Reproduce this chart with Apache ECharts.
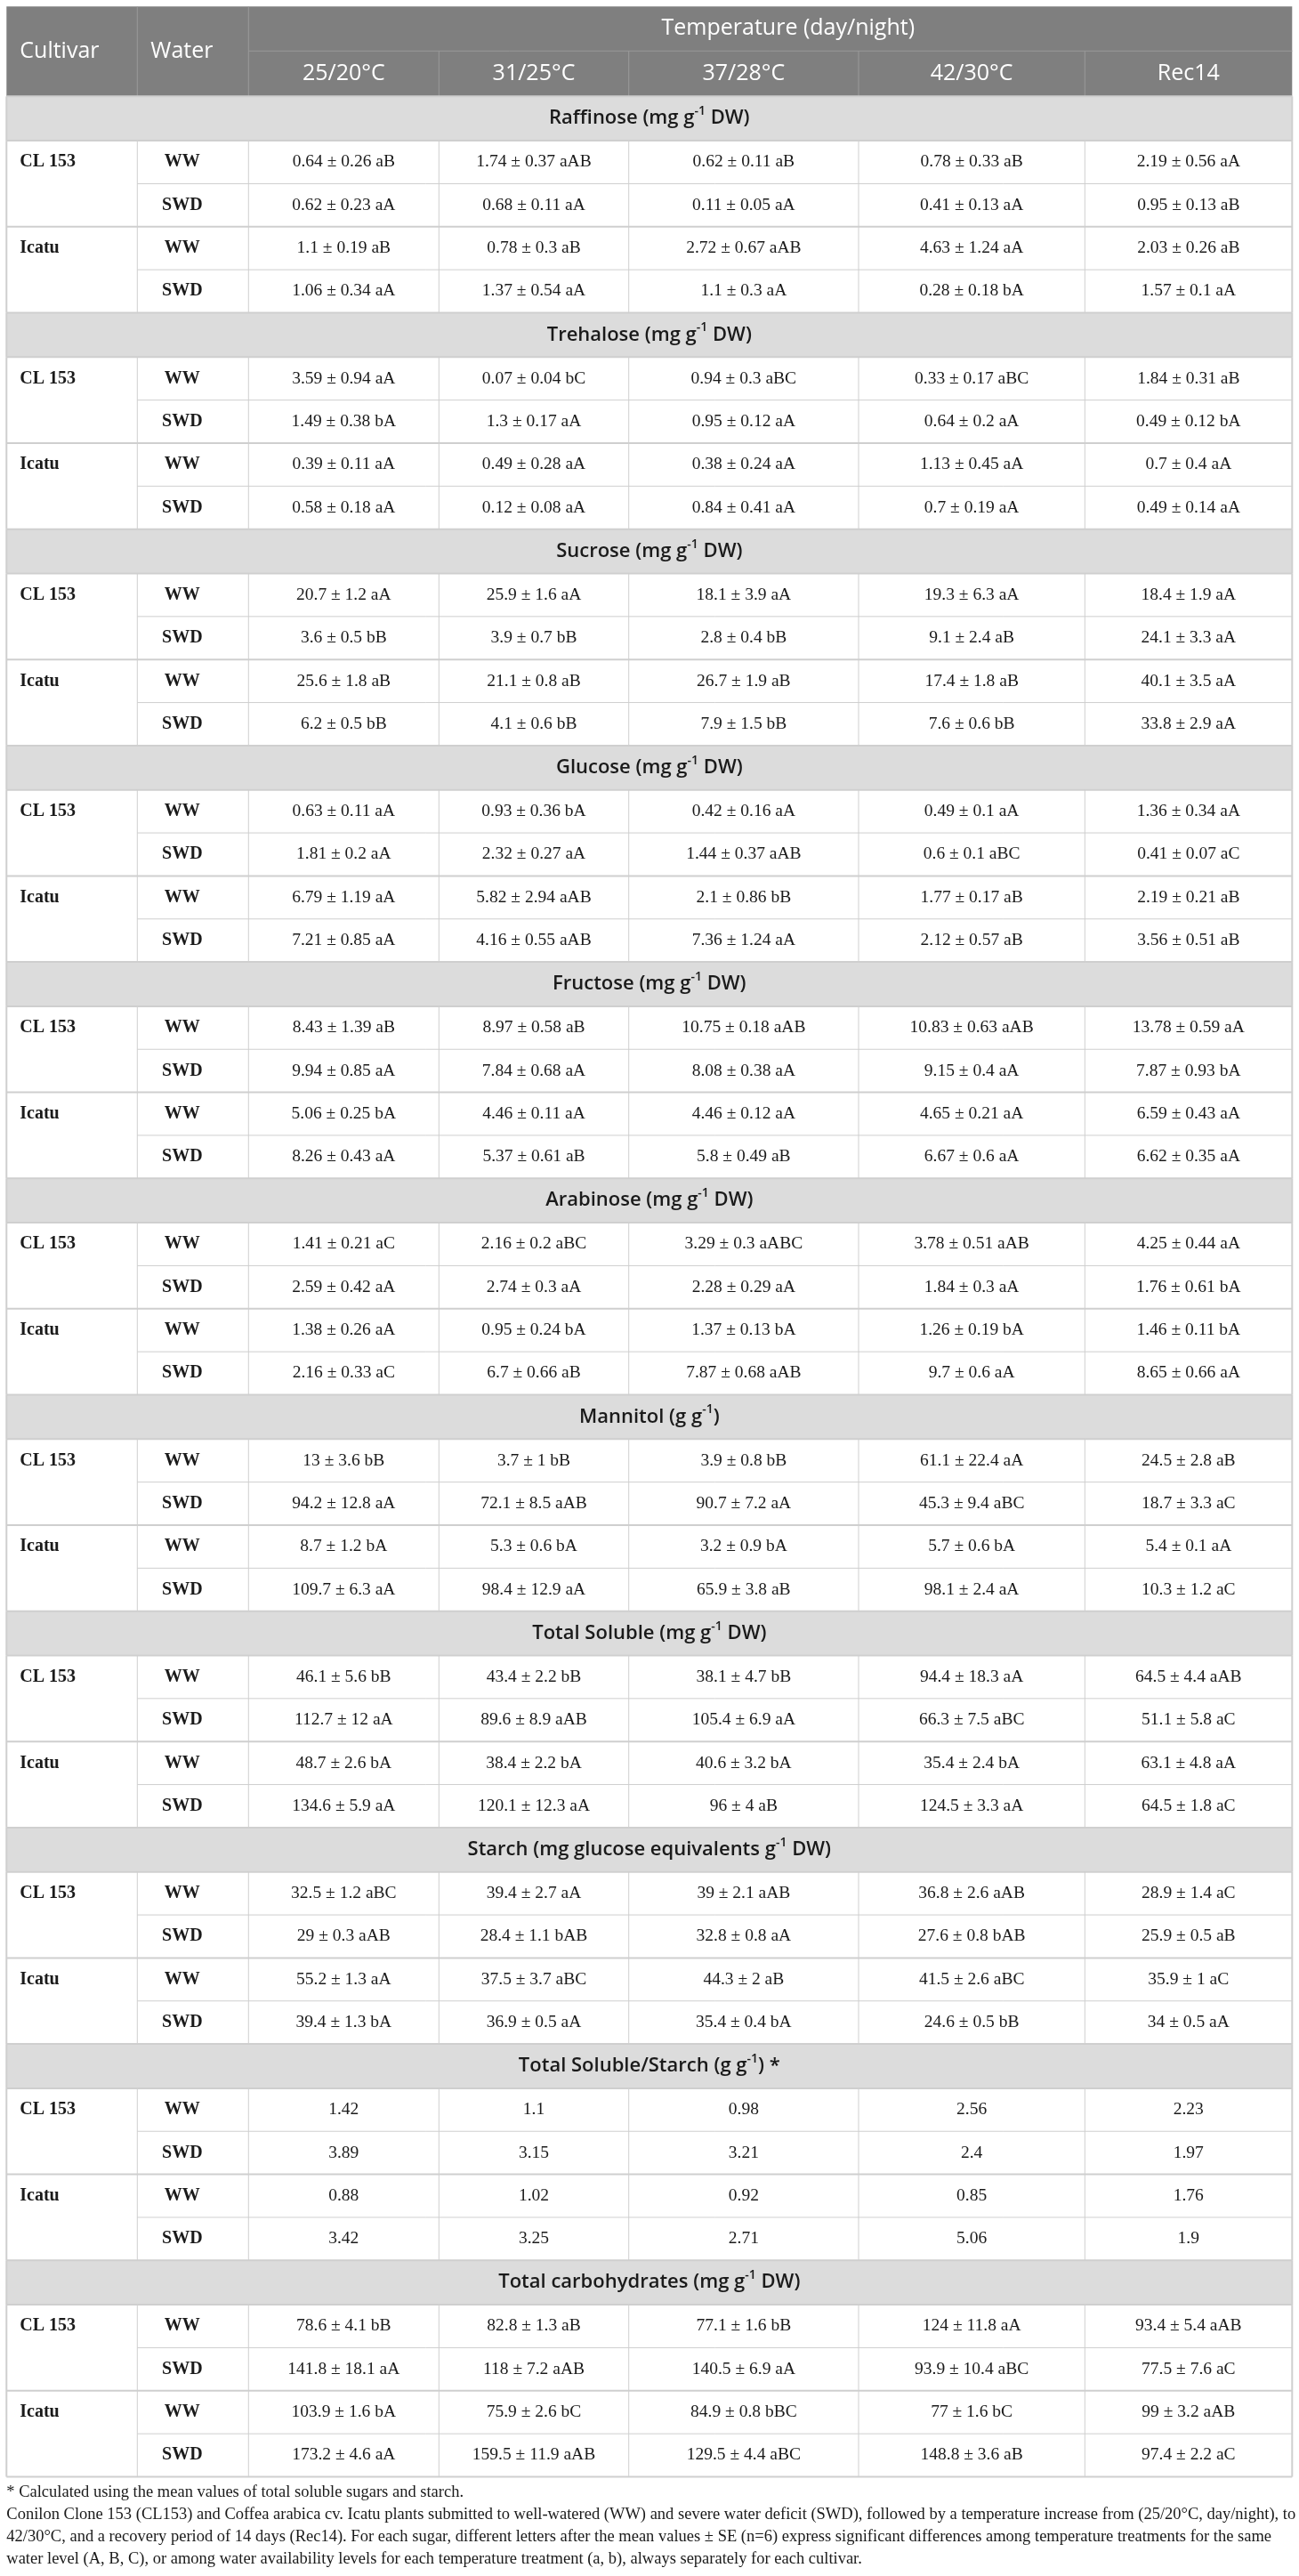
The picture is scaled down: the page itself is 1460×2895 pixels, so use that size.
<!DOCTYPE html>
<html><head><meta charset="utf-8">
<script src="https://cdn.jsdelivr.net/npm/echarts@6/dist/echarts.min.js"></script>
<style>html,body{margin:0;padding:0;background:#fff}#c{width:1460px;height:2895px}</style>
</head><body><div id="c"></div>
<script>
// ---------------- DATA ----------------
const headerCols = ['Cultivar', 'Water'];
const headerGroup = 'Temperature (day/night)';
const temperatures = ['25/20°C', '31/25°C', '37/28°C', '42/30°C', 'Rec14'];
const cultivars = ['CL 153', 'Icatu'];
const waterLevels = ['WW', 'SWD'];

const sectionNames = ['Raffinose', 'Trehalose', 'Sucrose', 'Glucose', 'Fructose', 'Arabinose',
  'Mannitol', 'Total Soluble', 'Starch', 'Total Soluble/Starch', 'Total carbohydrates'];
const sectionUnits = ['mg g-1 DW', 'mg g-1 DW', 'mg g-1 DW', 'mg g-1 DW', 'mg g-1 DW', 'mg g-1 DW',
  'g g-1', 'mg g-1 DW', 'mg glucose equivalents g-1 DW', 'g g-1', 'mg g-1 DW'];
const sectionMarks = ['', '', '', '', '', '', '', '', '', ' *', ''];

// rows: CL 153 WW, CL 153 SWD, Icatu WW, Icatu SWD ; columns: temperatures
const raffinose = [
  ['0.64 ± 0.26 aB', '1.74 ± 0.37 aAB', '0.62 ± 0.11 aB', '0.78 ± 0.33 aB', '2.19 ± 0.56 aA'],
  ['0.62 ± 0.23 aA', '0.68 ± 0.11 aA', '0.11 ± 0.05 aA', '0.41 ± 0.13 aA', '0.95 ± 0.13 aB'],
  ['1.1 ± 0.19 aB', '0.78 ± 0.3 aB', '2.72 ± 0.67 aAB', '4.63 ± 1.24 aA', '2.03 ± 0.26 aB'],
  ['1.06 ± 0.34 aA', '1.37 ± 0.54 aA', '1.1 ± 0.3 aA', '0.28 ± 0.18 bA', '1.57 ± 0.1 aA']
];
const trehalose = [
  ['3.59 ± 0.94 aA', '0.07 ± 0.04 bC', '0.94 ± 0.3 aBC', '0.33 ± 0.17 aBC', '1.84 ± 0.31 aB'],
  ['1.49 ± 0.38 bA', '1.3 ± 0.17 aA', '0.95 ± 0.12 aA', '0.64 ± 0.2 aA', '0.49 ± 0.12 bA'],
  ['0.39 ± 0.11 aA', '0.49 ± 0.28 aA', '0.38 ± 0.24 aA', '1.13 ± 0.45 aA', '0.7 ± 0.4 aA'],
  ['0.58 ± 0.18 aA', '0.12 ± 0.08 aA', '0.84 ± 0.41 aA', '0.7 ± 0.19 aA', '0.49 ± 0.14 aA']
];
const sucrose = [
  ['20.7 ± 1.2 aA', '25.9 ± 1.6 aA', '18.1 ± 3.9 aA', '19.3 ± 6.3 aA', '18.4 ± 1.9 aA'],
  ['3.6 ± 0.5 bB', '3.9 ± 0.7 bB', '2.8 ± 0.4 bB', '9.1 ± 2.4 aB', '24.1 ± 3.3 aA'],
  ['25.6 ± 1.8 aB', '21.1 ± 0.8 aB', '26.7 ± 1.9 aB', '17.4 ± 1.8 aB', '40.1 ± 3.5 aA'],
  ['6.2 ± 0.5 bB', '4.1 ± 0.6 bB', '7.9 ± 1.5 bB', '7.6 ± 0.6 bB', '33.8 ± 2.9 aA']
];
const glucose = [
  ['0.63 ± 0.11 aA', '0.93 ± 0.36 bA', '0.42 ± 0.16 aA', '0.49 ± 0.1 aA', '1.36 ± 0.34 aA'],
  ['1.81 ± 0.2 aA', '2.32 ± 0.27 aA', '1.44 ± 0.37 aAB', '0.6 ± 0.1 aBC', '0.41 ± 0.07 aC'],
  ['6.79 ± 1.19 aA', '5.82 ± 2.94 aAB', '2.1 ± 0.86 bB', '1.77 ± 0.17 aB', '2.19 ± 0.21 aB'],
  ['7.21 ± 0.85 aA', '4.16 ± 0.55 aAB', '7.36 ± 1.24 aA', '2.12 ± 0.57 aB', '3.56 ± 0.51 aB']
];
const fructose = [
  ['8.43 ± 1.39 aB', '8.97 ± 0.58 aB', '10.75 ± 0.18 aAB', '10.83 ± 0.63 aAB', '13.78 ± 0.59 aA'],
  ['9.94 ± 0.85 aA', '7.84 ± 0.68 aA', '8.08 ± 0.38 aA', '9.15 ± 0.4 aA', '7.87 ± 0.93 bA'],
  ['5.06 ± 0.25 bA', '4.46 ± 0.11 aA', '4.46 ± 0.12 aA', '4.65 ± 0.21 aA', '6.59 ± 0.43 aA'],
  ['8.26 ± 0.43 aA', '5.37 ± 0.61 aB', '5.8 ± 0.49 aB', '6.67 ± 0.6 aA', '6.62 ± 0.35 aA']
];
const arabinose = [
  ['1.41 ± 0.21 aC', '2.16 ± 0.2 aBC', '3.29 ± 0.3 aABC', '3.78 ± 0.51 aAB', '4.25 ± 0.44 aA'],
  ['2.59 ± 0.42 aA', '2.74 ± 0.3 aA', '2.28 ± 0.29 aA', '1.84 ± 0.3 aA', '1.76 ± 0.61 bA'],
  ['1.38 ± 0.26 aA', '0.95 ± 0.24 bA', '1.37 ± 0.13 bA', '1.26 ± 0.19 bA', '1.46 ± 0.11 bA'],
  ['2.16 ± 0.33 aC', '6.7 ± 0.66 aB', '7.87 ± 0.68 aAB', '9.7 ± 0.6 aA', '8.65 ± 0.66 aA']
];
const mannitol = [
  ['13 ± 3.6 bB', '3.7 ± 1 bB', '3.9 ± 0.8 bB', '61.1 ± 22.4 aA', '24.5 ± 2.8 aB'],
  ['94.2 ± 12.8 aA', '72.1 ± 8.5 aAB', '90.7 ± 7.2 aA', '45.3 ± 9.4 aBC', '18.7 ± 3.3 aC'],
  ['8.7 ± 1.2 bA', '5.3 ± 0.6 bA', '3.2 ± 0.9 bA', '5.7 ± 0.6 bA', '5.4 ± 0.1 aA'],
  ['109.7 ± 6.3 aA', '98.4 ± 12.9 aA', '65.9 ± 3.8 aB', '98.1 ± 2.4 aA', '10.3 ± 1.2 aC']
];
const totalSoluble = [
  ['46.1 ± 5.6 bB', '43.4 ± 2.2 bB', '38.1 ± 4.7 bB', '94.4 ± 18.3 aA', '64.5 ± 4.4 aAB'],
  ['112.7 ± 12 aA', '89.6 ± 8.9 aAB', '105.4 ± 6.9 aA', '66.3 ± 7.5 aBC', '51.1 ± 5.8 aC'],
  ['48.7 ± 2.6 bA', '38.4 ± 2.2 bA', '40.6 ± 3.2 bA', '35.4 ± 2.4 bA', '63.1 ± 4.8 aA'],
  ['134.6 ± 5.9 aA', '120.1 ± 12.3 aA', '96 ± 4 aB', '124.5 ± 3.3 aA', '64.5 ± 1.8 aC']
];
const starch = [
  ['32.5 ± 1.2 aBC', '39.4 ± 2.7 aA', '39 ± 2.1 aAB', '36.8 ± 2.6 aAB', '28.9 ± 1.4 aC'],
  ['29 ± 0.3 aAB', '28.4 ± 1.1 bAB', '32.8 ± 0.8 aA', '27.6 ± 0.8 bAB', '25.9 ± 0.5 aB'],
  ['55.2 ± 1.3 aA', '37.5 ± 3.7 aBC', '44.3 ± 2 aB', '41.5 ± 2.6 aBC', '35.9 ± 1 aC'],
  ['39.4 ± 1.3 bA', '36.9 ± 0.5 aA', '35.4 ± 0.4 bA', '24.6 ± 0.5 bB', '34 ± 0.5 aA']
];
const solubleStarchRatio = [
  ['1.42', '1.1', '0.98', '2.56', '2.23'],
  ['3.89', '3.15', '3.21', '2.4', '1.97'],
  ['0.88', '1.02', '0.92', '0.85', '1.76'],
  ['3.42', '3.25', '2.71', '5.06', '1.9']
];
const totalCarbohydrates = [
  ['78.6 ± 4.1 bB', '82.8 ± 1.3 aB', '77.1 ± 1.6 bB', '124 ± 11.8 aA', '93.4 ± 5.4 aAB'],
  ['141.8 ± 18.1 aA', '118 ± 7.2 aAB', '140.5 ± 6.9 aA', '93.9 ± 10.4 aBC', '77.5 ± 7.6 aC'],
  ['103.9 ± 1.6 bA', '75.9 ± 2.6 bC', '84.9 ± 0.8 bBC', '77 ± 1.6 bC', '99 ± 3.2 aAB'],
  ['173.2 ± 4.6 aA', '159.5 ± 11.9 aAB', '129.5 ± 4.4 aBC', '148.8 ± 3.6 aB', '97.4 ± 2.2 aC']
];
const sectionValues = [raffinose, trehalose, sucrose, glucose, fructose, arabinose,
  mannitol, totalSoluble, starch, solubleStarchRatio, totalCarbohydrates];

const footnotes = [
  '* Calculated using the mean values of total soluble sugars and starch.',
  'Conilon Clone 153 (CL153) and Coffea arabica cv. Icatu plants submitted to well-watered (WW) and severe water deficit (SWD), followed by a temperature increase from (25/20°C, day/night), to',
  '42/30°C, and a recovery period of 14 days (Rec14). For each sugar, different letters after the mean values ± SE (n=6) express significant differences among temperature treatments for the same',
  'water level (A, B, C), or among water availability levels for each temperature treatment (a, b), always separately for each cultivar.'
];

// ---------------- LAYOUT ----------------
const W = 1460, H = 2895;
const colEdges = [7.3, 154.3, 279.3, 493.3, 706.7, 965, 1219.3, 1452.3];
const TABLE_TOP = 7.3, HEAD_ROW1 = 50, HEAD_ROW2 = 51;
const TITLE_H = 49.8, ROW_H = 48.35;
const FOOT_FIRST = 2801.5, FOOT_LH = 25;
const C_HEAD = '#7f7f7f', C_HEAD_LINE = '#9a9a9a', C_TITLE = '#dcdcdc', C_LINE = '#cfcfcf';
const SANS = '"Open Sans", "Noto Sans", sans-serif';
const SERIF = '"Liberation Serif", "DejaVu Serif", serif';

const headBottom = TABLE_TOP + HEAD_ROW1 + HEAD_ROW2;
const SECTION_H = TITLE_H + 4 * ROW_H;
function titleTop(s) { return headBottom + s * SECTION_H; }
function rowTop(s, r) { return titleTop(s) + TITLE_H + r * ROW_H; }
const tableBottom = titleTop(sectionValues.length);

// ---------------- CELLS ----------------
const cells = [];
function rect(x1, y1, x2, y2, fill) { cells.push({ kind: 'rect', x1, y1, x2, y2, fill }); }
function line(x1, y1, x2, y2, stroke, lw) { cells.push({ kind: 'line', x1, y1, x2, y2, stroke, lw }); }
function text(x1, y1, x2, y2, t, st) { cells.push(Object.assign({ kind: 'text', x1, y1, x2, y2, t }, st)); }

// header
rect(colEdges[0], TABLE_TOP, colEdges[7], headBottom, C_HEAD);
line(colEdges[1], TABLE_TOP, colEdges[1], headBottom, C_HEAD_LINE, 1);
line(colEdges[2], TABLE_TOP, colEdges[2], headBottom, C_HEAD_LINE, 1);
line(colEdges[2], TABLE_TOP + HEAD_ROW1, colEdges[7], TABLE_TOP + HEAD_ROW1, C_HEAD_LINE, 1);
for (let c = 3; c < 7; c++) line(colEdges[c], TABLE_TOP + HEAD_ROW1, colEdges[c], headBottom, C_HEAD_LINE, 1);
const headStyle = { fill: '#ffffff', font: '400 25px ' + SANS };
headerCols.forEach((h, i) => text(colEdges[i], TABLE_TOP, colEdges[i + 1], headBottom, h,
  Object.assign({ align: 'left', pad: 15 }, headStyle)));
text(colEdges[2], TABLE_TOP, colEdges[7], TABLE_TOP + HEAD_ROW1, headerGroup, Object.assign({ align: 'center', dx: 20 }, headStyle));
temperatures.forEach((t, i) => text(colEdges[i + 2], TABLE_TOP + HEAD_ROW1, colEdges[i + 3], headBottom, t,
  Object.assign({ align: 'center' }, headStyle)));

// sections
sectionValues.forEach((vals, s) => {
  const ty = titleTop(s);
  rect(colEdges[0], ty, colEdges[7], ty + TITLE_H, C_TITLE);
  const title = sectionNames[s] + ' (' + sectionUnits[s].replace('g-1', 'g{s|-1}') + ')' + sectionMarks[s];
  text(colEdges[0], ty, colEdges[7], ty + TITLE_H, title,
    { align: 'center', fill: '#1a1a1a', font: '600 22px ' + SANS, rich: true });
  // horizontal lines
  line(colEdges[0], ty, colEdges[7], ty, C_LINE, 2);
  line(colEdges[0], ty + TITLE_H, colEdges[7], ty + TITLE_H, C_LINE, 2);
  line(colEdges[1], rowTop(s, 1), colEdges[7], rowTop(s, 1), C_LINE, 1);
  line(colEdges[0], rowTop(s, 2), colEdges[7], rowTop(s, 2), C_LINE, 2);
  line(colEdges[1], rowTop(s, 3), colEdges[7], rowTop(s, 3), C_LINE, 1);
  // vertical lines
  for (let c = 0; c < 8; c++) line(colEdges[c], rowTop(s, 0), colEdges[c], rowTop(s, 4), C_LINE, (c === 0 || c === 7) ? 2 : 1);
  line(colEdges[0], ty, colEdges[0], ty + TITLE_H, C_LINE, 2);
  line(colEdges[7], ty, colEdges[7], ty + TITLE_H, C_LINE, 2);
  vals.forEach((row, r) => {
    const y1 = rowTop(s, r), y2 = y1 + ROW_H;
    if (r % 2 === 0) text(colEdges[0], y1, colEdges[1], y2, cultivars[r / 2],
      { align: 'left', pad: 15, fill: '#1a1a1a', font: '700 20px ' + SERIF });
    text(colEdges[1], y1, colEdges[2], y2, waterLevels[r % 2],
      { align: 'center', dx: -12, fill: '#1a1a1a', font: '700 20px ' + SERIF });
    row.forEach((v, c) => text(colEdges[c + 2], y1, colEdges[c + 3], y2, v,
      { align: 'center', fill: '#1a1a1a', font: '400 19.5px ' + SERIF }));
  });
});
line(colEdges[0], tableBottom, colEdges[7], tableBottom, C_LINE, 2);

// footnotes
footnotes.forEach((f, i) => {
  const yc = FOOT_FIRST + i * FOOT_LH;
  text(colEdges[0], yc - FOOT_LH / 2, colEdges[7], yc + FOOT_LH / 2, f,
    { align: 'left', pad: 0, fill: '#1a1a1a', font: '400 18.5px ' + SERIF });
});

// ---------------- RENDER ----------------
function renderItem(params, api) {
  const c = cells[params.dataIndex];
  const p1 = api.coord([c.x1, c.y1]);
  const p2 = api.coord([c.x2, c.y2]);
  if (c.kind === 'rect') {
    return { type: 'rect', shape: { x: p1[0], y: p1[1], width: p2[0] - p1[0], height: p2[1] - p1[1] },
      style: { fill: c.fill }, silent: true };
  }
  if (c.kind === 'line') {
    return { type: 'line', shape: { x1: p1[0], y1: p1[1], x2: p2[0], y2: p2[1] },
      style: { stroke: c.stroke, lineWidth: c.lw }, silent: true };
  }
  let x;
  if (c.align === 'left') x = p1[0] + (c.pad || 0);
  else x = (p1[0] + p2[0]) / 2 + (c.dx || 0);
  const style = { text: c.t, x: x, y: (p1[1] + p2[1]) / 2, fill: c.fill, font: c.font,
    align: c.align, verticalAlign: 'middle' };
  if (c.rich) {
    style.lineHeight = 30;
    style.rich = { s: { fontSize: 14, lineHeight: 14, verticalAlign: 'top', fontWeight: 600,
      fontFamily: SANS, fill: '#1a1a1a' } };
  }
  return { type: 'text', style: style, silent: true };
}

const chart = echarts.init(document.getElementById('c'), null, { renderer: 'canvas', width: W, height: H });
chart.setOption({
  animation: false,
  backgroundColor: '#ffffff',
  grid: { left: 0, top: 0, width: W, height: H, show: false },
  xAxis: { type: 'value', min: 0, max: W, show: false },
  yAxis: { type: 'value', min: 0, max: H, inverse: true, show: false },
  series: [{
    type: 'custom',
    coordinateSystem: 'cartesian2d',
    renderItem: renderItem,
    clip: false,
    data: cells.map(c => [c.x1, c.y1])
  }]
});
</script></body></html>
